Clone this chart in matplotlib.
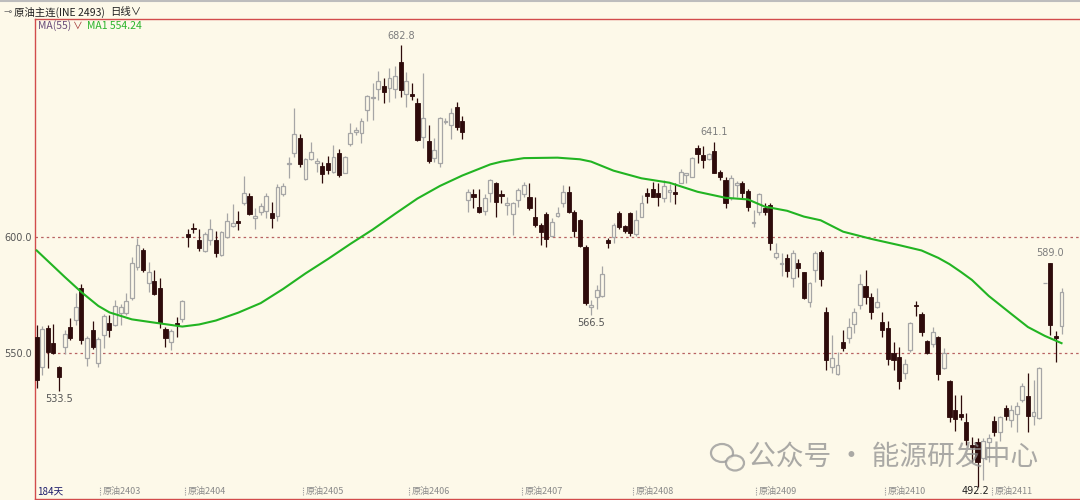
import matplotlib
matplotlib.use('Agg')
import matplotlib.pyplot as plt
from matplotlib.transforms import blended_transform_factory
from matplotlib.patches import Ellipse

plt.rcParams['font.family'] = ['Noto Sans CJK SC', 'DejaVu Sans']

# ---------------- data ----------------
opens = [557, 543.8, 560.6, 554.4, 543.8, 552.7, 561.3, 564.2, 577.9, 547.8,
         559.9, 545.8, 557.8, 562.8, 562.1, 567.4, 567.1, 573.5, 587.2, 594.4,
         580.3, 581.1, 577.9, 560.2, 554.6, 562.8, 564.5, 601.3, 604, 598.7,
         594, 598.7, 598.7, 592.2, 599.9, 604.7, 607, 614.5, 617.8, 608.3,
         610.9, 611, 610.5, 609.2, 618.5, 631.3, 636.3, 642.8, 624.9, 633.6,
         631.8, 630.6, 631.8, 628.2, 636.3, 627.8, 640, 645.4, 644.8, 654.7,
         659.8, 663.7, 665.3, 664.4, 663.9, 675.6, 661.5, 661.5, 657.6, 643.2,
         641.4, 634.2, 631.8, 649.5, 648.1, 656.2, 649.8, 615.8, 618.4, 613.1,
         611.2, 618.8, 623.1, 618.5, 613.9, 609.9, 616, 618.5, 617.4, 608.5,
         605.2, 609.9, 600.4, 609.1, 614.5, 619.6, 610.9, 607.3, 595.8, 570,
         574.3, 574.6, 598.7, 600.1, 610.5, 604.7, 610.2, 601.3, 608.8, 619.1,
         620.7, 619.1, 616.7, 619.6, 619.4, 623.4, 626.7, 626, 638.2, 635.3,
         633.5, 637.2, 628.2, 624.6, 616.7, 622.3, 623.4, 620, 605.9, 610.9,
         612.4, 613.8, 591.5, 588.2, 591.1, 582.2, 588.6, 584.8, 572.1, 585.8,
         593.7, 567.5, 544.1, 541, 554.9, 556.3, 562.4, 570.7, 579, 574.3,
         570, 563.2, 560.6, 549.9, 548.1, 541.2, 551.3, 570.7, 566.7, 555.2,
         553.8, 557, 543.7, 538.1, 525.4, 523.6, 520.1, 510.3, 511.5, 504.8,
         511.5, 520.5, 516, 526.1, 521.1, 523.6, 529.7, 531.3, 523, 521.9,
         580, 589, 557.5, 561.6]
highs = [562, 561.8, 562, 562.4, 544.4, 560, 565, 575.7, 579.6, 557.3,
         564, 556.8, 567, 566.4, 572.8, 571, 575.7, 591.5, 599.4, 595.1,
         589.4, 585.8, 582.2, 561.3, 560.3, 565.6, 572.8, 603.3, 606.2, 603.4,
         602.3, 607.6, 602.7, 602.7, 610.3, 614.2, 611, 626.3, 619.1, 612.4,
         614.5, 618.8, 615.2, 622.8, 623.1, 634.4, 655.5, 644.3, 633.9, 641.1,
         633.9, 632.5, 635, 639.7, 637.8, 635, 649, 647.5, 651.2, 661.2,
         666.2, 671.7, 668.7, 672.8, 673.6, 682.8, 671, 666.2, 660, 670.5,
         648.3, 642.5, 651.9, 651.2, 655.5, 658.3, 652.3, 620.7, 620.7, 620.7,
         618.4, 625, 623.8, 620.3, 617.4, 615.2, 621, 623.8, 623.1, 617.4,
         605.9, 610.9, 608.1, 613.1, 622.4, 621.8, 611.6, 607.6, 596.6, 572.8,
         579.3, 587.5, 599.4, 605.9, 611.3, 605.2, 610.9, 611.6, 618.1, 621,
         623.8, 623.1, 624.6, 622.8, 623.1, 629.2, 627.8, 634.6, 639.7, 639.2,
         636.4, 641.1, 628.9, 626, 626.7, 624.3, 624.3, 620.6, 611.6, 619.1,
         614.5, 614.5, 597.3, 593, 592.7, 594.4, 590.4, 585, 580.7, 594.1,
         594.4, 570, 557.8, 550.6, 559.9, 564.9, 569.3, 583.9, 585.8, 575.7,
         577.9, 567.8, 563.8, 554.6, 552.7, 547.4, 563.5, 572.4, 567.8, 555.6,
         561.3, 557.5, 552, 538.4, 531.8, 531.8, 524, 513.9, 513.5, 513.5,
         515.3, 523, 523, 527.6, 527.6, 529, 536.9, 541.2, 538.4, 544.1,
         580, 589, 559.5, 578.1]
lows = [535, 540.5, 543.4, 549.6, 533.5, 549.6, 555.6, 562, 553.9, 544.4,
        551.6, 544.1, 552, 557, 561.6, 562, 566.4, 572.8, 585.8, 585,
        576.4, 575, 560.6, 552.7, 551.3, 557, 563.5, 595.8, 601.6, 594.1,
        593.4, 596.6, 591.2, 592, 599.4, 604.4, 603, 613.8, 609.5, 603.3,
        609.5, 608, 603.7, 607, 617.8, 625.3, 634.4, 630.3, 624.6, 633.2,
        628.2, 623.4, 627.2, 627.5, 625.8, 627.5, 639.2, 644, 640.5, 650.2,
        650.4, 659, 657.6, 658.3, 659.8, 660.5, 656.2, 659, 641.4, 638.2,
        631.8, 632.5, 630, 648.6, 642.2, 646.1, 642.2, 610.9, 612.4, 610.5,
        609.5, 615.2, 608.8, 614.8, 609.5, 600.9, 613.1, 617.1, 611.6, 604.4,
        596.6, 595.8, 600.1, 608.8, 613.1, 610.2, 600.1, 595.6, 570.7, 566.5,
        568.8, 574.3, 595.1, 597.3, 603.3, 601.9, 600.4, 600.4, 608.5, 614.8,
        617.1, 613.4, 615.2, 615.2, 614.2, 623.1, 623.1, 625.7, 631.8, 629.6,
        633.2, 627.5, 624.6, 612.4, 615.9, 617.4, 616.7, 611.3, 604.2, 609.5,
        609.5, 594.4, 590.4, 583.2, 582.9, 578.3, 582.6, 573.1, 569.7, 580.7,
        578.9, 542.7, 541.2, 540.5, 550.9, 554.2, 558.5, 569, 571, 564.7,
        569.5, 557, 544.8, 542.7, 534.5, 539, 550.3, 566.1, 557.5, 549.4,
        552.7, 538.4, 543.1, 520.4, 516.4, 521.1, 510.3, 503.1, 492.2, 495.3,
        503.1, 514.4, 512.1, 521.1, 518.2, 516, 529, 516, 518.8, 521.4,
        580, 557.8, 546, 558.1]
closes = [538.4, 560.2, 550.6, 550.1, 539.8, 558, 556.6, 570, 555.4, 556.4,
          552.5, 556, 566, 559.9, 570.3, 569.7, 572.5, 588.6, 596.5, 585.8,
          585, 575.4, 563.1, 556.4, 559.6, 562.1, 572.5, 599.9, 603.3, 595.4,
          601.1, 603.3, 593.3, 602.3, 606.7, 606, 606, 619.1, 609.9, 609,
          613.4, 617.8, 608.1, 621.4, 622.1, 631.8, 644.4, 631.5, 633.5, 636.8,
          632.9, 627.2, 628.9, 634.4, 626.7, 634.6, 645, 646.1, 650.2, 660.8,
          660.5, 667.2, 662.4, 668.5, 669.6, 663.4, 667.2, 660.9, 641.8, 651.4,
          632.8, 637.5, 651.2, 650.2, 653.4, 647.6, 645.4, 619.3, 617.4, 610.9,
          617, 624.6, 615, 617.8, 614.5, 614.5, 620.3, 622.4, 612.4, 605.2,
          602.3, 599, 606.6, 610.5, 619.6, 610.9, 602.6, 596.1, 571.4, 570.7,
          577.2, 583.9, 597.5, 605.2, 604.4, 602.7, 601.6, 607.3, 614.5, 617.8,
          617.4, 617.1, 622, 620.3, 618.5, 628.2, 627.5, 633.9, 635.8, 633.2,
          635.8, 627.8, 626, 614.5, 625.3, 623.1, 618.8, 612.8, 606.6, 618.5,
          610.9, 597.3, 593, 588.6, 585.5, 593, 586.5, 573.5, 580.3, 593,
          581.8, 547, 548, 544.8, 552.3, 561.3, 567.8, 579.6, 574, 567.8,
          571.9, 559.9, 547.4, 547, 537.9, 545.1, 562.8, 570.3, 559.2, 549.9,
          559, 540.8, 549.9, 522.5, 521.6, 522.2, 512.5, 509.6, 503.1, 512,
          513.2, 515.8, 522.5, 523, 525.3, 527.3, 535.6, 523, 524.4, 543.4,
          580, 562, 556.6, 576.2]

# MA(55) line at these candle positions
ma_idx = [0, 5, 8, 11, 13, 17, 21, 26, 29, 32, 36, 40, 44, 48, 52, 56, 60,
          64, 68, 72, 76, 81, 83, 87, 93, 97, 99, 103, 108, 113, 118, 123,
          127, 130, 134, 137, 140, 144, 149, 154, 158, 161, 163, 165, 167,
          170, 174, 177, 180, 183]
ma_val = [594.2, 582.8, 576.2, 570.3, 567.5, 564.5, 563.1, 561.4, 562.3, 564,
          567.4, 571.5, 577.6, 584.3, 590.5, 597.0, 603.2, 610.0, 616.6, 622.0,
          626.5, 631.3, 632.5, 634, 634.2, 633.5, 632.5, 628.6, 625.3, 623.4,
          619.5, 616.9, 616.2, 613.1, 611.3, 608.8, 607.2, 602.3, 599.2,
          596.5, 594.2, 591.0, 588.3, 585.0, 581.5, 574.6, 566.9, 561.2,
          557.4, 554.24]
ma_last = 554.24

contract_labels = ['原油2403', '原油2404', '原油2405', '原油2406', '原油2407',
                   '原油2408', '原油2409', '原油2410', '原油2411']
contract_pos = [11.3, 26.5, 47.5, 66.4, 86.6, 106.5, 128.5, 151.4, 170.5]

ref_levels = [550.0, 600.0]
high_marks = [65, 121, 181]
low_marks = [4, 99, 168]
n_days = len(closes)

# ---------------- styling ----------------
BG = '#fdf9e9'
UP_EDGE = '#a6a6a6'
DOWN = '#2e0b0b'
RED = '#d24c4c'
MA_COLOR = '#22b422'

fig = plt.figure(figsize=(10.8, 5.0), dpi=100, facecolor=BG)
ax = fig.add_axes([35 / 1080, 1 / 500, 1045 / 1080, 480 / 500], facecolor=BG)

xs = list(range(n_days))
up_x, up_b, up_h = [], [], []
dn_x, dn_b, dn_h = [], [], []
for i in xs:
    o, c = opens[i], closes[i]
    if c >= o:
        up_x.append(i); up_b.append(o); up_h.append(c - o)
    else:
        dn_x.append(i); dn_b.append(c); dn_h.append(max(o - c, 0.6))

up_idx = set(up_x)
ax.vlines([i for i in xs if i in up_idx], [lows[i] for i in xs if i in up_idx],
          [highs[i] for i in xs if i in up_idx], color=UP_EDGE, lw=0.9, zorder=2)
ax.vlines([i for i in xs if i not in up_idx], [lows[i] for i in xs if i not in up_idx],
          [highs[i] for i in xs if i not in up_idx], color=DOWN, lw=0.9, zorder=2)
ax.bar(up_x, up_h, bottom=up_b, width=0.66, facecolor=BG, edgecolor=UP_EDGE,
       linewidth=0.9, zorder=3)
ax.bar(dn_x, dn_h, bottom=dn_b, width=0.72, facecolor=DOWN, edgecolor=DOWN,
       linewidth=0.6, zorder=3)

ax.plot(ma_idx, ma_val, color=MA_COLOR, lw=1.5, zorder=4)

for lv in ref_levels:
    ax.axhline(lv, color='#b86262', lw=0.9, ls=(0, (2, 2.5)), zorder=1)

ax.set_xlim(-0.3, 186.3)
ax.set_ylim(487.07, 693.97)

ax.set_yticks(ref_levels)
ax.set_yticklabels([f'{v:.1f}' for v in ref_levels], fontsize=7, color='#555555',
                   family=['DejaVu Sans'])
ax.tick_params(axis='y', length=0, pad=2)
ax.set_xticks([])

for side in ['left', 'top', 'bottom']:
    ax.spines[side].set_color(RED)
    ax.spines[side].set_linewidth(1.0)
ax.spines['right'].set_visible(False)

# high / low labels
for i in high_marks:
    ax.annotate(f'{highs[i]:.1f}', xy=(i, highs[i]), xytext=(0, 3),
                textcoords='offset points', ha='center', va='bottom',
                fontsize=7, color='#7d7d7d', family=['DejaVu Sans'])
trans = blended_transform_factory(ax.transData, ax.transAxes)
for i in low_marks:
    if lows[i] < 496:
        ax.text(i - 0.3, 0.016, f'{lows[i]:.1f}', transform=trans, ha='center',
                va='center', fontsize=7, color='#222222', family=['DejaVu Sans'],
                zorder=6)
    else:
        ax.annotate(f'{lows[i]:.1f}', xy=(i, lows[i]), xytext=(0, -2),
                    textcoords='offset points', ha='center', va='top',
                    fontsize=7, color='#555555', family=['DejaVu Sans'])

# contract labels along the bottom
for p, lab in zip(contract_pos, contract_labels):
    ax.plot([p, p], [0.008, 0.026], transform=trans, color='#9a9a9a', lw=0.8,
            ls=(0, (1, 1)), clip_on=False)
    ax.text(p + 0.5, 0.016, lab, transform=trans, ha='left', va='center',
            fontsize=6.5, color='#8a8a8a')
ax.text(0.1, 0.016, f'{n_days}天', transform=trans, ha='left', va='center',
        fontsize=7, color='#1b1b6b')

# header
fig.add_artist(plt.Line2D([0, 1], [0.998, 0.998], color='#bdbdbd', lw=1.5))
fig.text(14 / 1080, 1 - 12 / 500, '原油主连(INE 2493)', fontsize=7.5,
         color='#202020', va='center', ha='left')
fig.text(110 / 1080, 1 - 12 / 500, '日线∨', fontsize=7.5, color='#202020',
         va='center', ha='left')
fig.text(3 / 1080, 1 - 12 / 500, '⊸', fontsize=7, color='#666666',
         va='center', ha='left')
fig.text(38 / 1080, 1 - 26 / 500, 'MA(55)', fontsize=7.5, color='#6a4c7a',
         va='center', ha='left')
fig.text(73 / 1080, 1 - 26 / 500, '∨', fontsize=7, color='#a03030',
         va='center', ha='left')
fig.text(87 / 1080, 1 - 26 / 500, f'MA1 {ma_last:.2f}', fontsize=7.5,
         color='#2cb42c', va='center', ha='left')

# watermark
fig.text(748 / 1080, 1 - 457 / 500, '公众号 · 能源研发中心', fontsize=20,
         color='#8f8f8f', alpha=0.75, va='center', ha='left', zorder=10)
fig.add_artist(Ellipse((722 / 1080, 1 - 453 / 500), 22 / 1080, 18 / 500,
                       fill=False, ec='#9a9a9a', lw=1.6, alpha=0.8))
fig.add_artist(Ellipse((735 / 1080, 1 - 463 / 500), 18 / 1080, 15 / 500,
                       fc=BG, ec='#9a9a9a', lw=1.6, alpha=0.8))

fig.savefig('out.png', dpi=100, facecolor=BG)
